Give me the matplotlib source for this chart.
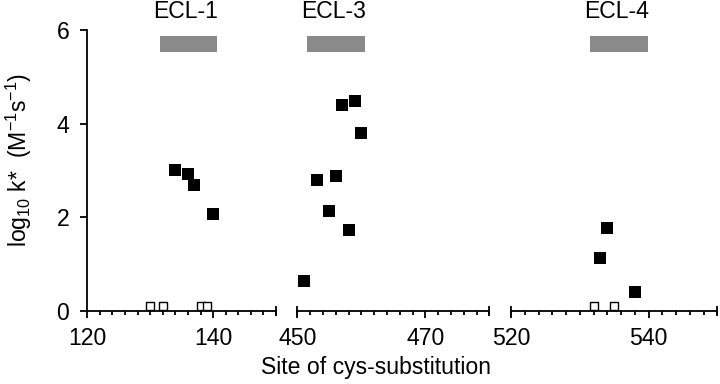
import matplotlib
matplotlib.use("Agg")
import matplotlib.pyplot as plt
import matplotlib.transforms as mtransforms
import numpy as np

plt.rcParams['font.family'] = ['Liberation Sans', 'DejaVu Sans']
plt.rcParams['mathtext.fontset'] = 'custom'
plt.rcParams['mathtext.rm'] = 'Liberation Sans'
plt.rcParams['mathtext.it'] = 'Liberation Sans'

# ---------------- data ----------------
loop_names = ["ECL-1", "ECL-3", "ECL-4"]
loop_start = [131.5, 451.5, 531.5]
loop_end = [140.6, 460.6, 539.9]
xlims = [(120, 150), (450, 480), (520, 550)]
xmajor = [[120, 140], [450, 470], [520, 540]]

ecl1_filled_x = [134, 136, 137, 140]
ecl1_filled_y = [3.0, 2.92, 2.68, 2.06]
ecl1_open_x = [130, 132, 138, 139]
ecl1_open_y = [0.1, 0.1, 0.1, 0.1]

ecl3_filled_x = [451, 453, 455, 456, 457, 458, 459, 460]
ecl3_filled_y = [0.63, 2.79, 2.14, 2.88, 4.39, 1.72, 4.49, 3.79]
ecl3_open_x = []
ecl3_open_y = []

ecl4_filled_x = [533, 534, 538]
ecl4_filled_y = [1.13, 1.76, 0.41]
ecl4_open_x = [532, 535]
ecl4_open_y = [0.1, 0.1]

yticks = [0, 2, 4, 6]

filled = [(ecl1_filled_x, ecl1_filled_y), (ecl3_filled_x, ecl3_filled_y), (ecl4_filled_x, ecl4_filled_y)]
opened = [(ecl1_open_x, ecl1_open_y), (ecl3_open_x, ecl3_open_y), (ecl4_open_x, ecl4_open_y)]

# ---------------- layout ----------------
W, H = 720, 384
fig = plt.figure(figsize=(W / 100, H / 100), dpi=100)
bottom_px, top_px = 310.7, 30.0
panels_px = [(87.3, 276.0), (297.3, 489.3), (511.0, 717.3)]

FS = 16.6
LW = 1.3
bar_color = "#8a8a8a"

for i, (l, r) in enumerate(panels_px):
    ax = fig.add_axes([l / W, (H - bottom_px) / H, (r - l) / W, (bottom_px - top_px) / H])
    ax.set_xlim(*xlims[i])
    ax.set_ylim(0, 6)
    ax.patch.set_visible(False)
    for s in ("top", "right"):
        ax.spines[s].set_visible(False)
    ax.spines["bottom"].set_linewidth(LW)
    ax.spines["left"].set_linewidth(LW)
    if i > 0:
        ax.spines["left"].set_visible(False)
        ax.tick_params(axis="y", left=False, labelleft=False)
    else:
        ax.set_yticks(yticks)
        ax.tick_params(axis="y", direction="out", length=5, width=LW, labelsize=FS, pad=8)

    ax.set_xticks(xmajor[i])
    ax.set_xticks(np.arange(xlims[i][0], xlims[i][1] + 0.1, 2), minor=True)
    ax.tick_params(axis="x", which="major", direction="out", length=5, width=LW, labelsize=FS, pad=7)
    ax.tick_params(axis="x", which="minor", direction="out", length=3, width=LW)

    # end caps of broken axis
    trans = mtransforms.blended_transform_factory(ax.transData, ax.transAxes)
    caps = [xlims[i][1]] if i == 0 else [xlims[i][0], xlims[i][1]]
    ax.plot(caps, [0] * len(caps), ls="none", marker="|", markersize=7,
            markeredgewidth=LW, color="black", transform=trans, clip_on=False, zorder=5)

    # loop bar and label
    ax.barh(5.7, loop_end[i] - loop_start[i], left=loop_start[i], height=0.33,
            color=bar_color, edgecolor="none")
    ax.text((loop_start[i] + loop_end[i]) / 2 - 0.4, 6.25, loop_names[i], ha="center",
            va="baseline", fontsize=FS, clip_on=False)

    fx, fy = filled[i]
    ax.plot(fx, fy, ls="none", marker="s", markersize=8.4, color="black",
            markeredgewidth=0, clip_on=False, zorder=6)
    ox, oy = opened[i]
    if len(ox):
        ax.plot(ox, oy, ls="none", marker="s", markersize=6.2, markerfacecolor="white",
                markeredgecolor="black", markeredgewidth=1.0, clip_on=False, zorder=6)

fig.text(19 / W, (H - 160) / H, r"log$_{10}$ k*  (M$^{-1}$s$^{-1}$)", rotation=90,
         ha="center", va="center", fontsize=FS)
fig.text(376 / W, (H - 374) / H, "Site of cys-substitution", ha="center", va="baseline",
         fontsize=FS)

fig.savefig("out.png", dpi=100)
